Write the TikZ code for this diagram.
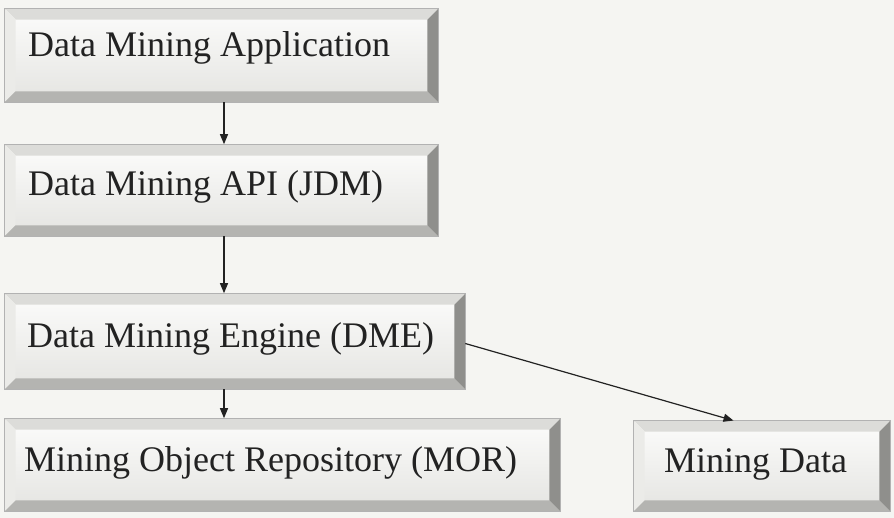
\documentclass[tikz,border=0pt]{standalone}
\usepackage{fontspec}
\setmainfont{Liberation Serif}
\usetikzlibrary{arrows.meta,fit,calc}

\definecolor{paper}{HTML}{F5F5F2}
\definecolor{facetop}{HTML}{FCFCFB}
\definecolor{facebot}{HTML}{E4E4E1}
\definecolor{bvtop}{HTML}{DCDCD9}
\definecolor{bvleft}{HTML}{EBEBE8}
\definecolor{bvright}{HTML}{8F8F8C}
\definecolor{bvbot}{HTML}{B4B4B1}
\definecolor{ink}{HTML}{222222}

\tikzset{
  bevface/.style={inner sep=0pt, draw=gray!60, line width=0.6pt,
    top color=facetop, bottom color=facebot},
  boxtext/.style={anchor=west, inner sep=0pt, text=ink,
    font=\fontsize{36}{40}\selectfont},
  arr/.style={draw=ink, line width=1.2pt,
    -{Triangle[length=10pt,width=8pt]}, shorten >=0.5pt},
}

% bevelled box: name, x1, y1, x2, y2, bevel width
\newcommand\bevelbox[6]{%
  \coordinate (#1-a) at (#2,#3);
  \coordinate (#1-b) at (#4,#5);
  \node[fit=(#1-a)(#1-b), bevface] (#1) {};
  \fill[bvtop] (#1.north west) -- (#1.north east)
    -- ([shift={(-#6,-#6)}]#1.north east) -- ([shift={(#6,-#6)}]#1.north west) -- cycle;
  \fill[bvleft] (#1.north west) -- (#1.south west)
    -- ([shift={(#6,#6)}]#1.south west) -- ([shift={(#6,-#6)}]#1.north west) -- cycle;
  \fill[bvbot] (#1.south west) -- (#1.south east)
    -- ([shift={(-#6,#6)}]#1.south east) -- ([shift={(#6,#6)}]#1.south west) -- cycle;
  \fill[bvright] (#1.north east) -- (#1.south east)
    -- ([shift={(-#6,#6)}]#1.south east) -- ([shift={(-#6,-#6)}]#1.north east) -- cycle;
  \draw[gray!60, line width=0.6pt] (#1.north west) rectangle (#1.south east);
}

\begin{document}
\begin{tikzpicture}[x=1pt,y=-1pt]
  % page and paper tone
  \fill[paper] (0,0) rectangle (894,518);
  \useasboundingbox (0,0) rectangle (894,518);

  \bevelbox{app}{5}{9}{438}{102}{11pt}
  \bevelbox{api}{5}{145}{438}{236}{11pt}
  \bevelbox{dme}{5}{294}{465}{389}{11pt}
  \bevelbox{mor}{5}{419}{560}{511}{11pt}
  \bevelbox{mdata}{634}{421}{890}{511}{11pt}

  \node[boxtext] (app-t) at (28,48) {Data Mining Application};
  \node[boxtext] (api-t) at (28,187) {Data Mining API (JDM)};
  \node[boxtext] (dme-t) at (27,339) {Data Mining Engine (DME)};
  \node[boxtext] (mor-t) at (24,463) {Mining Object Repository (MOR)};
  \node[boxtext] (mdata-t) at (664,464) {Mining Data};

  % vertical flow
  \coordinate (ax) at (224,0);
  \draw[arr] (app.south -| ax) -- (api.north -| ax);
  \draw[arr] (api.south -| ax) -- (dme.north -| ax);
  \draw[arr] (dme.south -| ax) -- (mor.north -| ax);

  % engine to mining data
  \draw[arr] ([yshift=-2pt]dme.east) -- ([xshift=-28pt]mdata.north);
\end{tikzpicture}
\end{document}
